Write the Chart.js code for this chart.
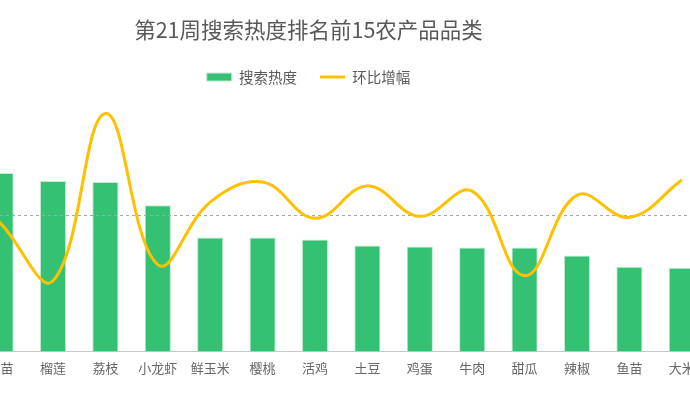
<!DOCTYPE html>
<html>
<head>
<meta charset="utf-8">
<script src="https://cdn.jsdelivr.net/npm/chart.js@4.4.0/dist/chart.umd.min.js"></script>
<style>
  html, body { margin: 0; padding: 0; background: #fff; overflow: hidden; }
  body { width: 690px; height: 396px; position: relative; }
  #wrap { position: absolute; left: -91px; top: 0; width: 799px; height: 396px; }
</style>
</head>
<body>
<div id="wrap"><canvas id="grafico"></canvas></div>
<script>
// === DADOS ===
const categorias = ["西瓜", "树苗", "榴莲", "荔枝", "小龙虾", "鲜玉米", "樱桃", "活鸡", "土豆", "鸡蛋", "牛肉", "甜瓜", "辣椒", "鱼苗", "大米"];
const searchHeat = [215, 177, 169, 168, 145, 113, 113, 111, 105, 104, 103, 103, 95, 84, 83];
const momGrowth = [40, -8, -65, 101, -49, 13, 33, -3, 29, -1, 24, -60, 20, -2, 35];

const titulo = "第21周搜索热度排名前15农产品品类";
const FONTE = "'Noto Sans CJK SC', 'Noto Sans', sans-serif";

// linha tracejada no zero do eixo direito (antes da linha)
const zeroLine = {
  id: "zeroLine",
  beforeDatasetDraw(chart, args) {
    if (args.meta.type !== "line") return;
    const { ctx, chartArea } = chart;
    const y = Math.round(chart.scales.y1.getPixelForValue(0)) + 0.5;
    ctx.save();
    ctx.strokeStyle = "#a6a6a6";
    ctx.lineWidth = 1;
    ctx.setLineDash([3, 3]);
    ctx.beginPath();
    ctx.moveTo(chartArea.left, y);
    ctx.lineTo(chartArea.right, y);
    ctx.stroke();
    ctx.restore();
  },
};

new Chart(document.getElementById("grafico"), {
  type: "bar",
  data: {
    labels: categorias,
    datasets: [
      {
        label: "搜索热度",
        data: searchHeat,
        backgroundColor: "#35c174",
        borderColor: "#c4ead3",
        borderWidth: 1,
        barPercentage: 0.5,
        categoryPercentage: 1,
        pointStyle: "rect",
        yAxisID: "y",
        order: 1,
      },
      {
        type: "line",
        label: "环比增幅",
        data: momGrowth,
        borderColor: "#ffc000",
        backgroundColor: "#ffc000",
        borderWidth: 3,
        tension: 0.4,
        pointRadius: 0,
        pointStyle: "line",
        yAxisID: "y1",
        order: 0,
      },
    ],
  },
  options: {
    responsive: true,
    maintainAspectRatio: false,
    animation: false,
    layout: { padding: { bottom: 11 } },
    plugins: {
      title: {
        display: true,
        text: titulo,
        color: "#595959",
        font: { family: FONTE, size: 21.5, weight: "normal" },
        padding: { top: 17, bottom: 4 },
      },
      legend: {
        labels: {
          usePointStyle: true,
          pointStyleWidth: 25,
          boxHeight: 8,
          padding: 23,
          color: "#595959",
          font: { family: FONTE, size: 14.5 },
          sort: (a, b) => a.datasetIndex - b.datasetIndex,
        },
      },
      tooltip: { enabled: false },
    },
    scales: {
      x: {
        grid: { display: false, drawTicks: false },
        border: { display: true, color: "#c8c8c8", width: 1 },
        ticks: { color: "#666", maxRotation: 0, padding: 9, font: { family: FONTE, size: 13 } },
      },
      y: {
        min: 0,
        max: 255,
        grid: { display: false, drawTicks: false },
        border: { display: false },
        ticks: { display: false },
        afterFit(scale) { scale.width = 13; },
      },
      y1: {
        display: false,
        position: "right",
        min: -135,
        max: 120,
      },
    },
  },
  plugins: [zeroLine],
});
</script>
</body>
</html>
